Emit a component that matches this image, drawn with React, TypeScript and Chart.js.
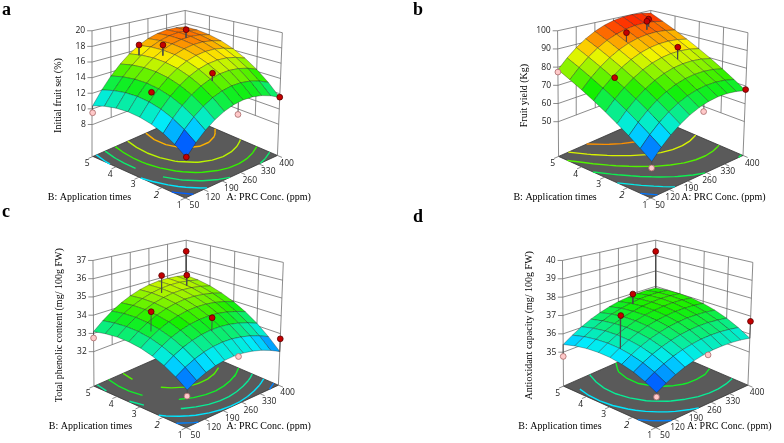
import React, { useEffect, useRef } from 'react';
import { Chart, registerables } from 'chart.js';

Chart.register(...registerables);

// ---------- axes / tick values ----------
const A_TICKS = [50, 120, 190, 260, 330, 400];
const B_TICKS = [1, 2, 3, 4, 5];
const A_GRID = [50, 85, 120, 155, 190, 225, 260, 295, 330, 365, 400];
const B_GRID = [1, 1.5, 2, 2.5, 3, 3.5, 4, 4.5, 5];

const Z_TICKS_A = [8, 10, 12, 14, 16, 18, 20];
const Z_TICKS_B = [50, 60, 70, 80, 90, 100];
const Z_TICKS_C = [32, 33, 34, 35, 36, 37];
const Z_TICKS_D = [35, 36, 37, 38, 39, 40];

// ---------- response surfaces (rows: B = 1..5 step 0.5, cols: A = 50..400 step 35) ----------
const SURF_A = [
  [8.4, 9.65, 10.69, 11.52, 12.14, 12.56, 12.77, 12.77, 12.56, 12.14, 11.52],
  [9.37, 10.67, 11.76, 12.64, 13.32, 13.78, 14.04, 14.09, 13.93, 13.57, 12.99],
  [10.14, 11.49, 12.63, 13.56, 14.29, 14.8, 15.11, 15.21, 15.1, 14.79, 14.26],
  [10.7, 12.1, 13.29, 14.27, 15.04, 15.61, 15.97, 16.12, 16.06, 15.79, 15.32],
  [11.05, 12.5, 13.74, 14.77, 15.6, 16.21, 16.62, 16.82, 16.81, 16.6, 16.17],
  [11.2, 12.7, 13.99, 15.07, 15.94, 16.61, 17.07, 17.32, 17.36, 17.19, 16.82],
  [11.14, 12.68, 14.02, 15.16, 16.08, 16.8, 17.3, 17.6, 17.7, 17.58, 17.26],
  [10.87, 12.46, 13.85, 15.04, 16.01, 16.78, 17.33, 17.68, 17.83, 17.76, 17.49],
  [10.39, 12.04, 13.48, 14.71, 15.73, 16.55, 17.16, 17.56, 17.75, 17.73, 17.51],
];
const SURF_B = [
  [48.3, 53.36, 57.72, 61.38, 64.34, 66.6, 68.16, 69.02, 69.18, 68.64, 67.4],
  [52.42, 57.48, 61.85, 65.52, 68.49, 70.75, 72.32, 73.19, 73.36, 72.82, 71.59],
  [56.44, 61.51, 65.89, 69.56, 72.54, 74.81, 76.39, 77.26, 77.44, 76.91, 75.69],
  [60.37, 65.45, 69.83, 73.51, 76.5, 78.78, 80.36, 81.24, 81.43, 80.91, 79.69],
  [64.2, 69.29, 73.68, 77.37, 80.36, 82.65, 84.24, 85.13, 85.32, 84.81, 83.6],
  [67.94, 73.04, 77.44, 81.13, 84.13, 86.43, 88.03, 88.92, 89.12, 88.62, 87.42],
  [71.59, 76.69, 81.1, 84.8, 87.81, 90.11, 91.72, 92.62, 92.83, 92.33, 91.14],
  [75.14, 80.25, 84.67, 88.38, 91.39, 93.7, 95.32, 96.23, 96.44, 95.95, 94.77],
  [78.6, 83.72, 88.14, 91.86, 94.88, 97.2, 98.82, 99.74, 99.96, 99.48, 98.3],
];
const SURF_C = [
  [31.9, 32.18, 32.4, 32.56, 32.66, 32.7, 32.68, 32.6, 32.46, 32.26, 32.0],
  [32.31, 32.61, 32.85, 33.03, 33.15, 33.21, 33.21, 33.14, 33.02, 32.84, 32.6],
  [32.65, 32.97, 33.23, 33.42, 33.56, 33.64, 33.66, 33.61, 33.51, 33.35, 33.13],
  [32.91, 33.25, 33.53, 33.74, 33.9, 33.99, 34.03, 34.01, 33.92, 33.78, 33.58],
  [33.1, 33.46, 33.75, 33.99, 34.16, 34.28, 34.33, 34.33, 34.26, 34.14, 33.95],
  [33.21, 33.59, 33.9, 34.15, 34.35, 34.48, 34.56, 34.57, 34.52, 34.42, 34.25],
  [33.25, 33.64, 33.98, 34.25, 34.46, 34.61, 34.71, 34.74, 34.71, 34.62, 34.48],
  [33.21, 33.62, 33.98, 34.27, 34.5, 34.67, 34.78, 34.83, 34.82, 34.75, 34.63],
  [33.1, 33.53, 33.9, 34.21, 34.46, 34.65, 34.78, 34.85, 34.86, 34.81, 34.7],
];
const SURF_D = [
  [34.8, 35.08, 35.32, 35.52, 35.67, 35.79, 35.87, 35.9, 35.9, 35.86, 35.77],
  [35.11, 35.4, 35.64, 35.85, 36.01, 36.13, 36.22, 36.26, 36.26, 36.22, 36.14],
  [35.36, 35.65, 35.9, 36.11, 36.28, 36.41, 36.5, 36.55, 36.56, 36.52, 36.45],
  [35.53, 35.83, 36.09, 36.31, 36.48, 36.62, 36.71, 36.77, 36.78, 36.76, 36.69],
  [35.65, 35.95, 36.21, 36.44, 36.62, 36.76, 36.86, 36.92, 36.94, 36.93, 36.87],
  [35.69, 36.0, 36.27, 36.5, 36.69, 36.84, 36.94, 37.01, 37.04, 37.03, 36.97],
  [35.67, 35.98, 36.26, 36.49, 36.69, 36.84, 36.96, 37.03, 37.07, 37.06, 37.01],
  [35.58, 35.9, 36.18, 36.42, 36.63, 36.79, 36.91, 36.99, 37.03, 37.03, 36.98],
  [35.42, 35.75, 36.04, 36.29, 36.49, 36.66, 36.79, 36.87, 36.92, 36.93, 36.89],
];

// ---------- design points: factor levels, observed response, fitted response ----------
const DOTS_A_PRC = [50, 190, 102.5, 207.5, 312.5, 225, 242.5, 400, 50];
const DOTS_A_TIMES = [5, 4.6, 3.1, 3.8, 4, 1.92, 1, 1, 1];
const DOTS_A_OBS = [9.5, 17.3, 13.4, 17.8, 18.8, 15.6, 11.2, 11.55, 8.45];
const DOTS_A_FIT = [10.39, 15.9, 13.12, 16.4, 17.65, 14.64, 12.66, 11.52, 8.4];

const DOTS_B_PRC = [50, 120, 225, 330, 312.5, 295, 400, 242.5, 50];
const DOTS_B_TIMES = [5, 3.4, 4.08, 4.32, 4.2, 2.72, 1, 1, 1];
const DOTS_B_OBS = [77.3, 77.5, 96.0, 99.5, 99.2, 89.8, 68.0, 63.7, 45.2];
const DOTS_B_FIT = [78.6, 76.7, 90.7, 95.1, 94.1, 83.0, 67.4, 67.5, 48.3];

const DOTS_C_PRC = [50, 242.5, 400, 330, 102.5, 225, 400, 242.5, 50];
const DOTS_C_TIMES = [5, 4.28, 5, 4.2, 3.16, 1.96, 1, 1, 1];
const DOTS_C_OBS = [32.75, 35.7, 36.27, 35.38, 34.69, 34.31, 32.71, 32.59, 31.61];
const DOTS_C_FIT = [33.1, 34.69, 34.7, 34.75, 33.65, 33.6, 32.0, 32.69, 31.9];

const DOTS_D_PRC = [50, 260, 85, 400, 400, 242.5, 50];
const DOTS_D_TIMES = [5, 4.4, 2.96, 5, 1, 1, 1];
const DOTS_D_OBS = [34.77, 37.5, 37.65, 39.27, 36.71, 35.7, 34.6];
const DOTS_D_FIT = [35.42, 36.92, 35.94, 36.89, 35.77, 35.83, 34.8];

// ---------- floor contour levels ----------
const LEVELS_A = [9.5, 11, 12.5, 14, 15.5, 17];
const LEVELS_B = [52, 60, 68, 76, 84, 92];
const LEVELS_C = [32.25, 32.75, 33.25, 33.75, 34.25];
const LEVELS_D = [35.25, 35.75, 36.25, 36.75];

const A_TITLE = 'A: PRC Conc. (ppm)';
const B_TITLE = 'B: Application times';

// ---------- layout (box geometry in panel pixels) ----------
const W = 392;
const H = 222;
const BOX_FLOOR = { F: [185, 201], R: [279, 157], L: [91, 158], K: [185, 116] };
const BOX_TOP = { F: [189, 51], R: [284, 30], L: [90, 28], K: [185, 7] };

const PANELS = [
  { letter: 'a', zTitle: 'Initial fruit set (%)', zTicks: Z_TICKS_A, surf: SURF_A, prc: DOTS_A_PRC, times: DOTS_A_TIMES, obs: DOTS_A_OBS, fit: DOTS_A_FIT, levels: LEVELS_A, zFloor: 3.91, ox: 0, oy: 0, aTitleX: 227, aLabelDx: 0, left: 0, top: 0, labelX: 2, labelY: 0 },
  { letter: 'b', zTitle: 'Fruit yield (Kg)', zTicks: Z_TICKS_B, surf: SURF_B, prc: DOTS_B_PRC, times: DOTS_B_TIMES, obs: DOTS_B_OBS, fit: DOTS_B_FIT, levels: LEVELS_B, zFloor: 30.9, ox: 75, oy: 0, aTitleX: 216, aLabelDx: -6, left: 392, top: 0, labelX: 413, labelY: 0 },
  { letter: 'c', zTitle: 'Total phenolic content (mg/ 100g FW)', zTicks: Z_TICKS_C, surf: SURF_C, prc: DOTS_C_PRC, times: DOTS_C_TIMES, obs: DOTS_C_OBS, fit: DOTS_C_FIT, levels: LEVELS_C, zFloor: 30.11, ox: 1, oy: 9, aTitleX: 226, aLabelDx: 0, left: 0, top: 221, labelX: 2, labelY: 202 },
  { letter: 'd', zTitle: 'Antioxidant capacity (mg/ 100g FW)', zTicks: Z_TICKS_D, surf: SURF_D, prc: DOTS_D_PRC, times: DOTS_D_TIMES, obs: DOTS_D_OBS, fit: DOTS_D_FIT, levels: LEVELS_D, zFloor: 33.15, ox: 80, oy: 9, aTitleX: 217, aLabelDx: -6, left: 392, top: 221, labelX: 413, labelY: 207 },
];

function bil(c: any, a: number, b: number, k: number) {
  return c.F[k] * (1 - a) * (1 - b) + c.R[k] * a * (1 - b) + c.L[k] * (1 - a) * b + c.K[k] * a * b;
}

function project(p: any, A: number, B: number, z: number) {
  const a = (A - 50) / 350;
  const b = (B - 1) / 4;
  const zTop = p.zTicks[p.zTicks.length - 1];
  const t = (z - p.zFloor) / (zTop - p.zFloor);
  const fx = bil(BOX_FLOOR, a, b, 0);
  const fy = bil(BOX_FLOOR, a, b, 1);
  const tx = bil(BOX_TOP, a, b, 0);
  const ty = bil(BOX_TOP, a, b, 1);
  return { x: p.ox + fx + t * (tx - fx), y: p.oy + fy + t * (ty - fy) };
}

const STOPS: [number, number[]][] = [
  [0, [0, 0, 255]],
  [0.25, [0, 235, 255]],
  [0.5, [20, 240, 0]],
  [0.75, [250, 245, 0]],
  [1, [255, 20, 0]],
];

function colorAt(t: number) {
  const v = Math.max(0, Math.min(1, t));
  for (let k = 0; k < STOPS.length - 1; k++) {
    const [t0, c0] = STOPS[k];
    const [t1, c1] = STOPS[k + 1];
    if (v <= t1) {
      const f = (v - t0) / (t1 - t0);
      const c = c0.map((x, i) => Math.round(x + f * (c1[i] - x)));
      return `rgb(${c[0]},${c[1]},${c[2]})`;
    }
  }
  return 'rgb(255,0,0)';
}

function buildDatasets(p: any) {
  const ds: any[] = [];
  const zf = p.zFloor;
  const zLow = p.zTicks[0];
  const zTop = p.zTicks[p.zTicks.length - 1];
  const cMin = Math.min(...p.obs);
  const cMax = Math.max(...p.obs);
  const cn = (z: number) => (z - cMin) / (cMax - cMin);
  const P = (A: number, B: number, z: number) => project(p, A, B, z);
  const GAP = () => ({ x: 0, y: null });

  // floor
  ds.push({
    data: [P(50, 1, zf), P(400, 1, zf), P(400, 5, zf), P(50, 5, zf), P(50, 1, zf)],
    fill: 'shape', backgroundColor: '#5a5a5a', borderColor: '#333333', borderWidth: 0.8,
  });

  // contours on the floor
  for (const L of p.levels) {
    const pts: any[] = [];
    for (let j = 0; j < B_GRID.length - 1; j++) {
      for (let i = 0; i < A_GRID.length - 1; i++) {
        const A0 = A_GRID[i], A1 = A_GRID[i + 1], B0 = B_GRID[j], B1 = B_GRID[j + 1];
        const v00 = p.surf[j][i], v10 = p.surf[j][i + 1], v11 = p.surf[j + 1][i + 1], v01 = p.surf[j + 1][i];
        const cr: number[][] = [];
        const edge = (va: number, vb: number, Aa: number, Ba: number, Ab: number, Bb: number) => {
          if ((va - L) * (vb - L) < 0) {
            const f = (L - va) / (vb - va);
            cr.push([Aa + f * (Ab - Aa), Ba + f * (Bb - Ba)]);
          }
        };
        edge(v00, v10, A0, B0, A1, B0);
        edge(v10, v11, A1, B0, A1, B1);
        edge(v11, v01, A1, B1, A0, B1);
        edge(v01, v00, A0, B1, A0, B0);
        for (let k = 0; k + 1 < cr.length; k += 2) {
          pts.push(P(cr[k][0], cr[k][1], zf), P(cr[k + 1][0], cr[k + 1][1], zf), GAP());
        }
      }
    }
    ds.push({ data: pts, borderColor: colorAt(cn(L)), borderWidth: 1.4 });
  }

  // walls, box edges, tick marks
  const w: any[] = [];
  const seg = (p1: any, p2: any) => { w.push(p1, p2, GAP()); };
  for (const z of p.zTicks) {
    seg(P(50, 5, z), P(400, 5, z));
    seg(P(400, 5, z), P(400, 1, z));
    const q = P(50, 5, z);
    seg({ x: q.x - 5, y: q.y }, q);
  }
  for (const A of A_TICKS.slice(1, -1)) seg(P(A, 5, zLow), P(A, 5, zTop));
  for (const B of B_TICKS.slice(1, -1)) seg(P(400, B, zLow), P(400, B, zTop));
  seg(P(50, 5, zf), P(50, 5, zTop));
  seg(P(400, 5, zf), P(400, 5, zTop));
  seg(P(400, 1, zf), P(400, 1, zTop));
  for (const A of A_TICKS) seg(P(A, 1, zf), P(A, 0.8, zf));
  for (const B of B_TICKS) seg(P(50, B, zf), P(32.5, B, zf));
  ds.push({ data: w, borderColor: '#6e6e6e', borderWidth: 0.8 });

  // surface quads, back to front
  const cells: any[] = [];
  for (let j = 0; j < B_GRID.length - 1; j++) {
    for (let i = 0; i < A_GRID.length - 1; i++) {
      const z00 = p.surf[j][i], z10 = p.surf[j][i + 1], z11 = p.surf[j + 1][i + 1], z01 = p.surf[j + 1][i];
      const depth = i / (A_GRID.length - 1) + j / (B_GRID.length - 1);
      cells.push({
        depth,
        avg: (z00 + z10 + z11 + z01) / 4,
        pts: [
          P(A_GRID[i], B_GRID[j], z00),
          P(A_GRID[i + 1], B_GRID[j], z10),
          P(A_GRID[i + 1], B_GRID[j + 1], z11),
          P(A_GRID[i], B_GRID[j + 1], z01),
          P(A_GRID[i], B_GRID[j], z00),
        ],
      });
    }
  }
  cells.sort((c1, c2) => c2.depth - c1.depth);
  for (const c of cells) {
    ds.push({
      data: c.pts, fill: 'shape', backgroundColor: colorAt(cn(c.avg)),
      borderColor: 'rgba(25,25,25,0.55)', borderWidth: 0.6,
    });
  }

  // drop lines and design points
  const dl: any[] = [];
  const red: any[] = [];
  const pink: any[] = [];
  for (let k = 0; k < p.obs.length; k++) {
    const q1 = P(p.prc[k], p.times[k], p.obs[k]);
    const q2 = P(p.prc[k], p.times[k], p.fit[k]);
    dl.push(q1, q2, GAP());
    if (p.obs[k] >= p.fit[k]) red.push(q1); else pink.push(q1);
  }
  ds.push({ data: dl, borderColor: '#4a4a4a', borderWidth: 0.9 });
  ds.push({ data: pink, showLine: false, pointRadius: 2.9, pointBackgroundColor: '#ffc9c9', pointBorderColor: '#a86a6a', pointBorderWidth: 0.8 });
  ds.push({ data: red, showLine: false, pointRadius: 2.9, pointBackgroundColor: '#c40000', pointBorderColor: '#5a0000', pointBorderWidth: 0.8 });

  return ds.map((d, k) => ({
    type: 'line', pointRadius: 0, pointHoverRadius: 0, pointHitRadius: 0,
    fill: false, tension: 0, spanGaps: false, ...d, order: -k,
  }));
}

function makeTextPlugin(p: any) {
  return {
    id: 'axisText_' + p.letter,
    afterDatasetsDraw(chart: any) {
      const ctx = chart.ctx;
      const xs = chart.scales.x;
      const ys = chart.scales.y;
      const X = (v: number) => xs.getPixelForValue(v);
      const Y = (v: number) => ys.getPixelForValue(v);
      const zf = p.zFloor;
      ctx.save();
      ctx.fillStyle = '#1a1a1a';
      ctx.font = '8.5px "Open Sans"';
      ctx.textAlign = 'right';
      ctx.textBaseline = 'middle';
      for (const z of p.zTicks) {
        const q = project(p, 50, 5, z);
        ctx.fillText(String(z), X(q.x - 7), Y(q.y));
      }
      ctx.textAlign = 'center';
      for (const A of A_TICKS) {
        const q = project(p, A, 0.6, zf);
        const dx = A === 50 || A === 400 ? 0 : p.aLabelDx;
        ctx.fillText(String(A), X(q.x + dx), Y(q.y + 4));
      }
      for (const B of B_TICKS) {
        const q = project(p, 22, B, zf);
        ctx.font = B === 2 ? 'italic 9.5px "Open Sans"' : '8.5px "Open Sans"';
        ctx.fillText(String(B), X(q.x + 1.5), Y(q.y + 4.5));
      }
      ctx.fillStyle = '#000';
      ctx.font = '10px "Liberation Serif"';
      ctx.textAlign = 'left';
      ctx.fillText(A_TITLE, X(p.ox + p.aTitleX), Y(p.oy + 200));
      ctx.fillText(B_TITLE, X(p.ox + 45), Y(p.oy + 200));
      ctx.save();
      ctx.translate(X(p.ox + 56), Y(p.oy + 95));
      ctx.rotate(-Math.PI / 2);
      ctx.textAlign = 'center';
      ctx.fillText(p.zTitle, 0, 0);
      ctx.restore();
      ctx.restore();
    },
  };
}

function PanelChart({ panel }: { panel: any }) {
  const ref = useRef<HTMLCanvasElement>(null);
  useEffect(() => {
    if (!ref.current) return;
    const chart = new Chart(ref.current, {
      type: 'line',
      data: { datasets: buildDatasets(panel) },
      options: {
        responsive: false,
        animation: false,
        events: [],
        layout: { padding: 0 },
        plugins: { legend: { display: false }, tooltip: { enabled: false }, title: { display: false } },
        scales: {
          x: { type: 'linear', min: 0, max: W, display: false },
          y: { type: 'linear', min: 0, max: H, reverse: true, display: false },
        },
      } as any,
      plugins: [makeTextPlugin(panel)],
    } as any);
    return () => chart.destroy();
  }, [panel]);
  return (
    <canvas
      ref={ref}
      width={W}
      height={H}
      style={{ position: 'absolute', left: panel.left, top: panel.top, width: W, height: H }}
    />
  );
}

export default function App() {
  useEffect(() => {
    document.body.style.margin = '0';
  }, []);
  return (
    <div style={{ position: 'relative', width: 784, height: 443, background: '#ffffff', overflow: 'hidden' }}>
      {PANELS.map((p) => (
        <PanelChart key={p.letter} panel={p} />
      ))}
      {PANELS.map((p) => (
        <div
          key={'lbl' + p.letter}
          style={{
            position: 'absolute', left: p.labelX, top: p.labelY,
            font: 'bold 18px "Liberation Serif"', lineHeight: '18px', color: '#000',
          }}
        >
          {p.letter}
        </div>
      ))}
    </div>
  );
}
